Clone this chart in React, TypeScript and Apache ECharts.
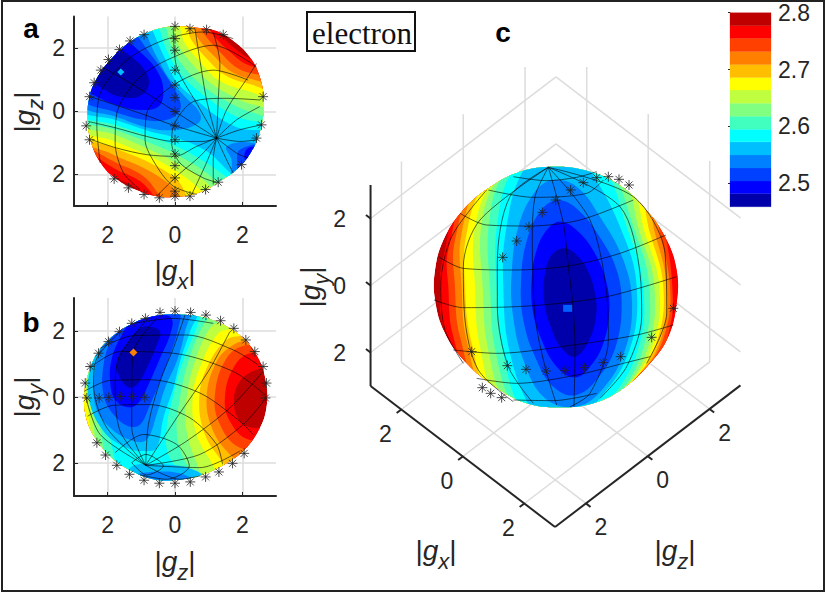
import { useEffect, useRef } from 'react';
import * as echarts from 'echarts';

type Pt = number[];
type Region = [number, Pt[]];

// jet colour steps of the bar, low to high
const bandColors = ['#0000AA', '#0000FF', '#0040FF', '#0080FF', '#00BFFF', '#00FFFF', '#40FFBF', '#80FF80', '#BFFF40', '#FFFF00', '#FFBF00', '#FF8000', '#FF4000', '#FF0000', '#BF0000'];
const barEdges = [2.459, 2.482, 2.504, 2.527, 2.55, 2.573, 2.595, 2.618, 2.641, 2.664, 2.686, 2.709, 2.732, 2.755, 2.777, 2.8];
const barTicks = [2.5, 2.6, 2.7, 2.8];
const gTicks = [-2, 0, 2];

// All sphere readings below on a 3x ruler.
// Panels a and b are calibrated to g units by their tick marks.
const aToG = ([x, y]: Pt) => [(x - 525) / 101.25, (334 - y) / 95.25];
const bToG = ([x, y]: Pt) => [(x - 525) / 101.25, (337 - y) / 99.5];

const aOutline: Pt[] = [[525, 78], [590, 82], [650, 92], [705, 125], [750, 170], [780, 230], [792, 305], [783, 385], [755, 455], [715, 505], [660, 545], [600, 578], [530, 592], [470, 590], [410, 572], [350, 540], [305, 495], [275, 435], [262, 360], [268, 290], [290, 235], [330, 180], [390, 125], [455, 92]];
const bOutline: Pt[] = [[525, 88], [600, 95], [672, 120], [735, 165], [778, 225], [800, 300], [800, 370], [778, 435], [730, 500], [665, 545], [595, 575], [525, 587], [460, 585], [395, 560], [335, 520], [285, 460], [258, 400], [252, 335], [265, 265], [295, 200], [345, 148], [405, 112], [465, 93]];
const cOutline: Pt[] = [[407, 80], [500, 92], [590, 130], [670, 200], [735, 290], [770, 390], [770, 490], [745, 590], [690, 670], [610, 745], [520, 790], [420, 802], [320, 790], [225, 740], [140, 670], [75, 580], [45, 480], [45, 390], [70, 300], [125, 215], [205, 145], [300, 95]];

// upper right and lower left edges of each colour step in panel a
const aUpper: Record<number, Pt[]> = {
  13: [[640, 60], [660, 100], [705, 145], [750, 175], [820, 200]],
  12: [[610, 60], [640, 105], [685, 150], [735, 190], [820, 230]],
  11: [[585, 60], [615, 105], [660, 155], [715, 205], [820, 255]],
  10: [[565, 60], [595, 115], [640, 165], [695, 215], [820, 280]],
  9: [[545, 60], [575, 120], [620, 175], [675, 225], [820, 300]],
  8: [[525, 60], [555, 130], [600, 185], [655, 240], [820, 325]],
  7: [[505, 60], [535, 135], [580, 195], [640, 255], [720, 300], [820, 350]],
  6: [[485, 60], [515, 140], [560, 210], [625, 270], [710, 320], [820, 378]],
  5: [[465, 65], [500, 150], [545, 225], [610, 285], [700, 345], [820, 398]],
  4: [[445, 70], [490, 165], [530, 245], [590, 300], [660, 355], [720, 385], [820, 410]],
};
const aLower: Record<number, Pt[]> = {
  13: [[230, 440], [270, 480], [340, 530], [410, 565], [480, 620]],
  12: [[230, 430], [265, 455], [340, 505], [420, 545], [505, 620]],
  11: [[230, 420], [262, 440], [340, 485], [430, 530], [520, 620]],
  10: [[230, 405], [340, 465], [440, 510], [530, 575], [545, 620]],
  9: [[230, 390], [345, 445], [450, 490], [530, 540], [590, 620]],
  8: [[230, 378], [345, 425], [450, 470], [530, 515], [600, 570], [640, 620]],
  7: [[230, 362], [345, 405], [450, 450], [530, 490], [610, 540], [670, 600]],
  6: [[230, 348], [345, 390], [450, 430], [530, 465], [620, 520], [690, 580]],
  5: [[230, 335], [345, 375], [450, 410], [530, 440], [620, 490], [710, 555]],
  4: [[230, 322], [345, 360], [450, 395], [530, 415], [620, 455], [680, 510], [730, 560]],
};
// blobs of the lowest steps in panel a
const aBlobs: Region[] = [
  [3, [[420, 80], [470, 170], [510, 240], [555, 290], [600, 340], [595, 370], [530, 390], [450, 385], [345, 350], [240, 315], [200, 200], [350, 50]]],
  [3, [[680, 440], [695, 480], [700, 540], [770, 560], [810, 470], [760, 430]]],
  [2, [[390, 85], [450, 160], [500, 230], [535, 290], [540, 330], [500, 360], [430, 360], [340, 335], [245, 300], [200, 200], [330, 60]]],
  [2, [[720, 450], [712, 490], [720, 525], [790, 510], [795, 440]]],
  [1, [[360, 110], [420, 155], [470, 210], [490, 270], [475, 320], [420, 330], [350, 315], [290, 290], [255, 268], [220, 200], [300, 100]]],
  [1, [[745, 445], [735, 480], [770, 495], [785, 450]]],
  [0, [[345, 145], [400, 175], [440, 220], [445, 260], [415, 290], [360, 290], [315, 270], [285, 240], [300, 170]]],
];

// panel b, each step as one closed edge
const bRegions: Region[] = [
  [13, [[200, 0], [850, 0], [850, 240], [770, 255], [720, 290], [702, 350], [720, 410], [760, 430], [850, 430], [850, 650], [200, 650]]],
  [12, [[200, 0], [850, 0], [850, 205], [750, 205], [700, 250], [675, 340], [690, 410], [745, 465], [850, 470], [850, 650], [200, 650]]],
  [11, [[200, 0], [850, 0], [850, 180], [740, 180], [680, 220], [645, 330], [660, 420], [720, 490], [850, 510], [850, 650], [200, 650]]],
  [10, [[200, 0], [850, 0], [800, 160], [745, 165], [700, 180], [650, 230], [620, 340], [640, 440], [690, 510], [760, 570], [750, 650], [200, 650]]],
  [9, [[200, 0], [800, 0], [780, 130], [730, 150], [680, 165], [625, 240], [598, 340], [615, 450], [665, 530], [720, 610], [200, 650]]],
  [8, [[330, 0], [760, 40], [700, 125], [655, 145], [603, 240], [578, 340], [590, 450], [640, 545], [670, 620], [280, 620], [268, 420], [258, 340], [240, 290]]],
  [7, [[350, 40], [700, 50], [670, 100], [630, 130], [585, 230], [560, 340], [560, 440], [600, 560], [630, 620], [310, 600], [280, 420], [270, 340], [255, 270]]],
  [6, [[370, 60], [660, 60], [640, 85], [610, 120], [565, 230], [540, 340], [530, 440], [550, 520], [600, 620], [345, 590], [300, 430], [280, 350], [265, 260]]],
  [5, [[380, 60], [630, 60], [610, 75], [585, 140], [545, 240], [518, 340], [500, 430], [505, 510], [570, 620], [390, 610], [320, 430], [290, 330], [278, 225]]],
  [4, [[300, 130], [440, 70], [590, 75], [570, 140], [540, 230], [520, 310], [490, 400], [470, 490], [440, 500], [380, 490], [310, 440], [265, 340], [270, 250], [290, 170]]],
  [4, [[390, 550], [480, 540], [590, 560], [620, 600], [400, 605]]],
  [3, [[330, 130], [430, 80], [565, 75], [555, 140], [530, 230], [495, 310], [470, 390], [440, 465], [400, 470], [330, 430], [285, 360], [285, 250], [310, 170]]],
  [3, [[400, 575], [500, 562], [570, 582], [500, 605]]],
  [2, [[350, 140], [420, 95], [535, 80], [535, 130], [510, 210], [480, 290], [450, 360], [420, 420], [385, 425], [340, 390], [310, 330], [310, 240], [330, 170]]],
  [1, [[400, 105], [480, 90], [515, 100], [510, 150], [480, 220], [445, 300], [415, 355], [385, 368], [345, 345], [330, 290], [335, 220], [365, 150]]],
  [0, [[450, 125], [480, 140], [470, 180], [440, 250], [410, 300], [385, 308], [360, 280], [350, 230], [385, 170], [420, 130]]],
];

// panel c, left and right edge of each step from top to bottom
const cLeft: Record<number, Pt[]> = {
  13: [[150, 100], [70, 350], [60, 440], [70, 560], [150, 740]],
  12: [[170, 100], [85, 330], [85, 440], [100, 590], [170, 750]],
  11: [[180, 110], [105, 300], [105, 440], [120, 590], [190, 760]],
  10: [[190, 120], [125, 280], [125, 440], [140, 600], [205, 770]],
  9: [[200, 130], [140, 280], [135, 440], [155, 610], [220, 780]],
  8: [[225, 120], [165, 260], [165, 440], [180, 620], [240, 790]],
  7: [[240, 110], [185, 250], [188, 440], [205, 630], [265, 800]],
  6: [[255, 100], [207, 250], [210, 440], [228, 640], [290, 810]],
  5: [[280, 90], [232, 250], [230, 440], [250, 640], [310, 820]],
  4: [[310, 90], [258, 270], [250, 440], [270, 640], [340, 820]],
};
const cRight: Record<number, Pt[]> = {
  13: [[800, 100], [830, 300], [830, 440], [830, 600], [800, 780]],
  12: [[700, 150], [735, 280], [757, 440], [750, 560], [700, 680]],
  11: [[680, 140], [720, 280], [750, 440], [738, 570], [680, 680]],
  10: [[660, 130], [705, 280], [740, 440], [725, 590], [660, 700]],
  9: [[640, 120], [690, 280], [730, 440], [712, 600], [640, 720]],
  8: [[620, 110], [675, 280], [718, 440], [700, 610], [620, 740]],
  7: [[600, 100], [660, 280], [703, 440], [685, 620], [600, 760]],
  6: [[570, 90], [640, 260], [688, 440], [668, 630], [580, 780]],
  5: [[550, 80], [620, 260], [670, 440], [650, 640], [550, 800]],
  4: [[510, 90], [600, 260], [650, 440], [625, 640], [520, 800]],
};
const cBlobs: Region[] = [
  [3, [[400, 120], [470, 140], [540, 230], [610, 360], [636, 490], [615, 630], [550, 745], [470, 800], [375, 775], [310, 660], [278, 520], [275, 400], [295, 260], [345, 155]]],
  [2, [[415, 180], [480, 215], [545, 300], [590, 390], [605, 490], [590, 610], [545, 700], [470, 765], [400, 740], [345, 650], [310, 540], [303, 430], [318, 310], [360, 215]]],
  [1, [[425, 245], [480, 280], [530, 350], [560, 430], [568, 510], [550, 610], [510, 680], [465, 712], [410, 680], [365, 600], [338, 510], [335, 420], [350, 330], [385, 265]]],
  [0, [[432, 325], [470, 345], [505, 395], [525, 460], [528, 530], [505, 605], [465, 650], [425, 625], [392, 560], [372, 480], [375, 400], [395, 345]]],
];

const aLines: Pt[][] = [
  [[650, 415], [525, 335], [405, 258], [305, 200]],
  [[650, 415], [525, 378], [420, 340], [270, 290]],
  [[650, 415], [610, 425], [520, 425], [440, 410], [350, 385], [265, 365]],
  [[650, 415], [590, 440], [525, 470], [440, 465], [350, 445], [275, 420]],
  [[650, 415], [600, 470], [530, 530], [470, 590]],
  [[650, 415], [615, 500], [575, 585]],
  [[650, 415], [640, 480], [640, 555]],
  [[650, 415], [680, 480], [700, 520]],
  [[650, 415], [710, 460], [745, 475]],
  [[650, 415], [720, 425], [775, 420]],
  [[650, 415], [720, 390], [785, 375]],
  [[650, 415], [710, 360], [780, 320]],
  [[650, 415], [680, 330], [745, 230], [770, 190]],
  [[650, 415], [655, 300], [660, 190], [640, 95]],
  [[650, 415], [620, 300], [600, 180], [585, 85]],
  [[650, 415], [590, 310], [530, 200], [520, 85]],
  [[780, 300], [680, 295], [580, 305], [520, 380], [515, 430], [540, 490], [610, 535], [650, 548]],
  [[745, 240], [640, 210], [520, 255], [440, 340], [435, 420], [470, 500], [520, 560], [590, 585]],
  [[770, 200], [640, 135], [500, 180], [410, 240], [350, 340], [345, 430], [370, 520], [420, 570]],
  [[700, 115], [610, 95], [490, 120], [380, 180], [300, 280], [290, 380], [300, 490]],
];
const bLines: Pt[][] = [
  [[395, 535], [437, 510], [490, 545], [440, 572], [395, 535]],
  [[345, 505], [430, 450], [530, 480], [568, 545], [500, 585], [420, 572]],
  [[262, 395], [340, 362], [450, 360], [570, 400], [650, 480], [668, 540]],
  [[252, 320], [330, 287], [450, 285], [600, 325], [720, 410], [760, 450]],
  [[268, 250], [360, 200], [520, 205], [700, 260], [795, 330]],
  [[300, 190], [400, 152], [560, 150], [700, 195], [775, 240]],
  [[400, 115], [520, 100], [640, 115]],
  [[437, 543], [395, 430], [395, 300], [400, 200], [470, 100]],
  [[437, 543], [360, 440], [345, 300], [360, 210], [440, 105]],
  [[437, 543], [320, 430], [280, 300], [290, 220], [360, 140]],
  [[437, 543], [300, 450], [255, 330]],
  [[437, 543], [445, 420], [480, 290], [520, 190], [555, 90]],
  [[437, 543], [530, 400], [625, 260], [690, 140]],
  [[437, 543], [560, 470], [690, 370], [790, 260]],
  [[437, 543], [600, 510], [730, 420], [795, 345]],
  [[437, 543], [600, 550], [720, 500]],
  [[437, 543], [540, 585], [600, 575]],
];
const cLines: Pt[][] = [
  [[385, 82], [430, 250], [445, 380], [458, 490], [465, 620], [462, 800]],
  [[385, 82], [345, 170], [337, 300], [345, 530], [375, 680], [410, 795]],
  [[385, 82], [270, 170], [232, 370], [232, 500], [265, 680], [340, 790]],
  [[385, 82], [180, 240], [130, 380], [135, 540], [175, 690], [280, 785]],
  [[200, 150], [95, 290], [62, 440], [75, 570], [130, 670]],
  [[385, 82], [510, 240], [560, 460], [565, 600], [510, 760], [450, 800]],
  [[385, 82], [600, 200], [660, 400], [665, 530], [620, 680], [540, 775]],
  [[385, 82], [640, 170], [735, 340], [740, 520], [680, 670]],
  [[280, 110], [380, 122], [470, 112], [530, 95]],
  [[205, 150], [340, 172], [500, 160], [550, 120]],
  [[120, 220], [200, 255], [330, 258], [480, 240], [640, 180]],
  [[55, 350], [130, 385], [280, 390], [445, 378], [600, 340], [738, 285]],
  [[42, 480], [130, 503], [340, 497], [560, 470], [770, 410]],
  [[100, 630], [230, 640], [460, 615], [650, 585], [760, 555]],
  [[170, 715], [290, 730], [470, 705], [610, 670], [690, 650]],
  [[280, 780], [400, 782], [530, 760]],
];

const aStars: Pt[] = [[525, 78], [570, 85], [620, 88], [670, 103], [790, 290], [785, 375], [770, 415], [725, 495], [655, 548], [617, 570], [570, 590], [525, 590], [478, 595], [432, 585], [385, 565], [342, 538], [268, 420], [258, 378], [268, 290], [282, 248], [302, 210], [325, 178], [358, 148], [390, 122], [432, 103], [525, 115], [525, 150], [525, 210], [525, 255], [525, 293], [525, 335], [525, 378], [525, 420], [525, 463], [525, 498], [525, 535], [525, 575]];
const bStars: Pt[] = [[480, 82], [525, 78], [572, 82], [618, 90], [662, 107], [702, 130], [738, 165], [765, 200], [790, 245], [800, 295], [797, 340], [260, 340], [297, 340], [326, 338], [360, 335], [396, 335], [434, 338], [290, 475], [316, 512], [350, 543], [388, 570], [432, 588], [478, 597], [525, 597], [571, 593], [617, 578], [657, 563], [698, 537], [733, 507], [436, 100], [395, 115], [358, 140], [325, 170], [295, 205], [270, 245], [255, 295]];
const cStars: Pt[] = [[290, 303], [327, 260], [367, 217], [407, 180], [452, 150], [490, 128], [530, 113], [565, 110], [597, 118], [627, 135], [248, 352], [187, 743], [212, 760], [245, 773], [262, 677], [318, 688], [378, 693], [435, 692], [493, 683], [550, 668], [602, 650], [695, 592], [760, 505], [155, 635]];

const panelFont = 'Liberation Sans';
const ink = '#262626';
const wallGrey = '#dcdcdc';

// g components to the projection plane of panel c
const project = (gx: number, gy: number, gz: number) => [
  406.5 + 92.25 * gx + 92.7 * gz,
  435.6 + 70.5 * gx - 70.8 * gz - 100.5 * gy,
];

const stripe = (upper: Pt[], lower: Pt[]): Pt[] => [...upper, [900, 700], ...[...lower].reverse(), [150, 100], [400, 20]];
const column = (left: Pt[], right: Pt[]): Pt[] => [...left, [420, 900], ...[...right].reverse(), [420, -30]];

const aRegions: Region[] = [
  ...[13, 12, 11, 10, 9, 8, 7, 6, 5, 4].map((k): Region => [k, stripe(aUpper[k], aLower[k])]),
  ...aBlobs,
];
const cRegions: Region[] = [
  ...[13, 12, 11, 10, 9, 8, 7, 6, 5, 4].map((k): Region => [k, column(cLeft[k], cRight[k])]),
  ...cBlobs,
];

const starPath = 'path://M-10 0L10 0M0-10L0 10M-7-7L7 7M-7 7L7-7';
const nameRich = {
  i: { fontSize: 28, fontStyle: 'italic', fontFamily: panelFont, color: ink },
  s: { fontSize: 22, fontStyle: 'italic', fontFamily: panelFont, color: ink, padding: [22, 0, 0, 0] },
};

function sphereSeries(
  index: number,
  regions: Region[],
  outline: Pt[],
  lines: Pt[][],
  stars: Pt[],
  toData: (p: Pt) => number[],
) {
  const polygons: Region[] = [[14, outline], ...regions];
  const out: any[] = [
    {
      type: 'custom',
      xAxisIndex: index,
      yAxisIndex: index,
      z: 2,
      silent: true,
      clip: false,
      data: polygons.map((_, i) => [i]),
      renderItem: (params: any, api: any) => {
        const [band, pts] = polygons[params.dataIndex];
        const toPx = (p: Pt) => api.coord(toData(p));
        return {
          type: 'polygon',
          shape: { points: pts.map(toPx), smooth: 0.4 },
          style: { fill: bandColors[band] },
          clipPath: { type: 'polygon', shape: { points: outline.map(toPx), smooth: 0.4 } },
        };
      },
    },
  ];
  lines.forEach((line) => {
    out.push({
      type: 'line',
      xAxisIndex: index,
      yAxisIndex: index,
      z: 3,
      silent: true,
      showSymbol: false,
      smooth: 0.3,
      lineStyle: { color: '#000', width: 0.6 },
      data: line.map(toData),
    });
  });
  out.push({
    type: 'scatter',
    xAxisIndex: index,
    yAxisIndex: index,
    z: 4,
    silent: true,
    symbol: starPath,
    symbolSize: 10,
    itemStyle: { color: 'none', borderColor: '#222', borderWidth: 0.8, opacity: 1 },
    data: stars.map(toData),
  });
  return out;
}

function wallSeries() {
  const segs: number[][][] = [];
  gTicks.forEach((t) => {
    segs.push([project(t, -3, -3), project(t, -3, 3)]);
    segs.push([project(-3, -3, t), project(3, -3, t)]);
    segs.push([project(-3, t, -3), project(-3, t, 3)]);
    segs.push([project(-3, t, 3), project(3, t, 3)]);
    segs.push([project(-3, -3, t), project(-3, 3, t)]);
    segs.push([project(t, -3, 3), project(t, 3, 3)]);
  });
  const axes: number[][][] = [
    [project(-3, -3, -3), project(-3, 3, -3)],
    [project(-3, -3, -3), project(3, -3, -3)],
    [project(3, -3, -3), project(3, -3, 3)],
  ];
  gTicks.forEach((t) => {
    axes.push([project(-3, t, -3), project(-3.15, t, -3)]);
    axes.push([project(t, -3, -3), project(t, -3, -3.15)]);
    axes.push([project(3, -3, t), project(3.15, -3, t)]);
  });
  const asLine = (seg: number[][], color: string, width: number, z: number) => ({
    type: 'line',
    xAxisIndex: 3,
    yAxisIndex: 3,
    z,
    silent: true,
    showSymbol: false,
    lineStyle: { color, width },
    data: seg,
  });
  return [...segs.map((s) => asLine(s, wallGrey, 1.5, 1)), ...axes.map((s) => asLine(s, ink, 2, 1.5))];
}

function tickLabelSeries() {
  const data: any[] = [];
  gTicks.forEach((t) => {
    data.push({ value: project(-3, t, -3), label: { offset: [-31, 0] }, name: String(Math.abs(t)) });
    data.push({ value: project(t, -3, -3), label: { offset: [-16, 24] }, name: String(Math.abs(t)) });
    data.push({ value: project(3, -3, t), label: { offset: [15, 24] }, name: String(Math.abs(t)) });
  });
  return {
    type: 'scatter',
    xAxisIndex: 3,
    yAxisIndex: 3,
    z: 5,
    silent: true,
    symbolSize: 0,
    itemStyle: { opacity: 1 },
    label: {
      show: true,
      position: 'inside',
      formatter: '{b}',
      color: ink,
      fontSize: 23,
      fontFamily: panelFont,
    },
    data,
  };
}

function flatAxis(grid: number, x: boolean) {
  return {
    type: 'value',
    gridIndex: grid,
    min: -3,
    max: 3,
    axisLine: { onZero: false, lineStyle: { color: ink, width: 2 } },
    axisTick: { customValues: gTicks, inside: true, length: 4, lineStyle: { color: ink, width: 1 } },
    axisLabel: {
      customValues: gTicks,
      formatter: (v: number) => String(Math.abs(v)),
      color: ink,
      fontSize: 23,
      fontFamily: panelFont,
      margin: x ? 17 : 9,
    },
    splitLine: { show: true, lineStyle: { color: wallGrey, width: 1.5 } },
  };
}

function gName(sub: string, x: number, y: number, rotate = false) {
  return {
    type: 'text',
    x,
    y,
    rotation: rotate ? Math.PI / 2 : 0,
    z: 10,
    style: {
      text: `|{i|g}{s|${sub}}|`,
      align: 'center',
      verticalAlign: 'middle',
      fontSize: 28,
      fontFamily: panelFont,
      fill: ink,
      rich: nameRich,
    },
  };
}

function letter(text: string, x: number, y: number) {
  return {
    type: 'text',
    x,
    y,
    z: 10,
    style: { text, align: 'center', verticalAlign: 'middle', fontSize: 28, fontWeight: 'bold', fontFamily: panelFont, fill: '#000' },
  };
}

export default function App() {
  const ref = useRef<HTMLDivElement>(null);

  useEffect(() => {
    if (!ref.current) return;
    const chart = echarts.init(ref.current, undefined, { renderer: 'svg' });
    const keepFrame = (p: Pt) => p;

    chart.setOption({
      animation: false,
      backgroundColor: '#fff',
      grid: [
        { left: 74, top: 16.5, width: 202, height: 189.5 },
        { left: 74, top: 298, width: 202, height: 198 },
        { left: 730, top: 12.7, width: 41, height: 194 },
        { left: 300, top: 30, width: 500, height: 540 },
      ],
      xAxis: [
        flatAxis(0, true),
        flatAxis(1, true),
        { type: 'value', gridIndex: 2, min: 0, max: 1, show: false },
        { type: 'value', gridIndex: 3, min: -360, max: 1140, show: false },
      ],
      yAxis: [
        flatAxis(0, false),
        flatAxis(1, false),
        {
          type: 'value',
          gridIndex: 2,
          position: 'right',
          min: barEdges[0],
          max: 2.8,
          axisLine: { show: true, lineStyle: { color: '#777', width: 0.6 } },
          axisTick: { customValues: barTicks, inside: true, length: 2, lineStyle: { color: ink } },
          axisLabel: {
            customValues: barTicks,
            formatter: (v: number) => v.toFixed(1),
            color: ink,
            fontSize: 23,
            fontFamily: panelFont,
            margin: 7,
            padding: [3, 0, 0, 0],
          },
          splitLine: { show: false },
        },
        { type: 'value', gridIndex: 3, inverse: true, min: -330, max: 1290, show: false },
      ],
      graphic: [
        { type: 'rect', z: 0, silent: true, shape: { x: 2, y: 1, width: 822, height: 590 }, style: { fill: 'none', stroke: '#222', lineWidth: 2 } },
        { type: 'rect', z: 10, silent: true, shape: { x: 307, y: 12, width: 108, height: 39 }, style: { fill: '#fff', stroke: '#111', lineWidth: 2 } },
        { type: 'text', x: 362, y: 33, z: 11, style: { text: 'electron', align: 'center', verticalAlign: 'middle', fontSize: 31, fontFamily: 'Liberation Serif', fill: '#111' } },
        letter('a', 31, 28),
        letter('b', 31, 322),
        letter('c', 503, 32),
        gName('x', 175, 270),
        gName('z', 175, 561),
        gName('z', 24, 112, true),
        gName('y', 24, 397, true),
        gName('x', 436, 550),
        gName('z', 675, 550),
        gName('y', 310, 287, true),
      ],
      series: [
        ...wallSeries(),
        ...sphereSeries(0, aRegions, aOutline, aLines, aStars, aToG),
        ...sphereSeries(1, bRegions, bOutline, bLines, bStars, bToG),
        ...sphereSeries(3, cRegions, cOutline, cLines, cStars, keepFrame),
        tickLabelSeries(),
        {
          type: 'scatter',
          xAxisIndex: 0,
          yAxisIndex: 0,
          z: 4,
          silent: true,
          symbol: 'diamond',
          symbolSize: 7,
          itemStyle: { color: '#00BFFF', opacity: 1 },
          data: [aToG([362, 216])],
        },
        {
          type: 'scatter',
          xAxisIndex: 1,
          yAxisIndex: 1,
          z: 4,
          silent: true,
          symbol: 'diamond',
          symbolSize: 8,
          itemStyle: { color: '#FF8000', opacity: 1 },
          data: [bToG([400, 203])],
        },
        {
          type: 'scatter',
          xAxisIndex: 3,
          yAxisIndex: 3,
          z: 4,
          silent: true,
          symbol: 'rect',
          symbolSize: [9, 7],
          itemStyle: { color: '#0060FF', opacity: 1 },
          data: [[443, 505]],
        },
        {
          type: 'custom',
          xAxisIndex: 2,
          yAxisIndex: 2,
          z: 2,
          silent: true,
          data: bandColors.map((_, i) => [i]),
          renderItem: (params: any, api: any) => {
            const i = params.dataIndex;
            const a = api.coord([0, barEdges[i + 1]]);
            const b = api.coord([1, barEdges[i]]);
            return {
              type: 'rect',
              shape: { x: a[0], y: a[1], width: b[0] - a[0], height: b[1] - a[1] },
              style: { fill: bandColors[i], stroke: bandColors[i], lineWidth: 0.3 },
            };
          },
        },
      ],
    });
    return () => chart.dispose();
  }, []);

  return <div ref={ref} style={{ position: 'fixed', left: 0, top: 0, width: 830, height: 593 }} />;
}
